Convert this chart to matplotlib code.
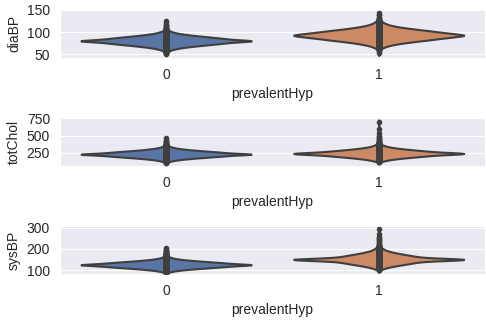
import numpy as np
import pandas as pd
import matplotlib
matplotlib.use("Agg")
import matplotlib.pyplot as plt
import seaborn as sns

# readings binned by value, one list of counts per prevalentHyp group
dia_vals_0 = [50, 52.5, 55, 57.5, 60, 62.5, 65, 67.5, 70, 72.5, 75, 77.5, 80, 82.5,
              85, 87.5, 90, 92.5, 95, 97.5, 100, 102.5, 105, 107.5, 110, 112.5, 115, 120, 125]
dia_cnt_0 = [1, 3, 6, 12, 24, 42, 69, 106, 149, 196, 237, 266, 407, 266,
             237, 196, 149, 106, 69, 42, 26, 14, 8, 5, 3, 2, 2, 1, 1]
dia_vals_1 = [52.5, 57.5, 62.5, 67.5, 72.5, 77.5, 82.5, 87.5, 92.5, 97.5,
              102.5, 107.5, 112.5, 117.5, 122.5, 127.5, 132.5, 137.5, 142.5]
dia_cnt_1 = [1, 2, 7, 20, 46, 89, 142, 189, 250, 189,
             142, 89, 46, 22, 10, 5, 3, 2, 1]

chol_vals_0 = [110, 120, 130, 140, 150, 160, 170, 180, 190, 200, 210, 220, 230,
               240, 250, 260, 270, 280, 290, 300, 310, 320, 330, 340, 350, 360, 370,
               380, 390, 400, 420, 440, 460]
chol_cnt_0 = [2, 8, 15, 25, 39, 59, 84, 113, 145, 175, 200, 217, 347,
              217, 200, 175, 145, 113, 86, 63, 44, 30, 20, 13, 9, 6, 4,
              3, 2, 2, 1, 1, 1]
chol_vals_1 = [120, 130, 140, 150, 160, 170, 180, 190, 200, 210, 220, 230, 240,
               250, 260, 270, 280, 290, 300, 310, 320, 330, 340, 350, 360, 370, 380,
               390, 400, 410, 420, 430, 440, 450, 460, 480, 500, 540, 600, 700]
chol_cnt_1 = [3, 6, 10, 15, 22, 31, 41, 53, 65, 76, 85, 91, 198,
              91, 85, 76, 65, 53, 42, 32, 24, 17, 12, 9, 6, 4, 3,
              3, 2, 2, 1, 1, 1, 1, 1, 1, 1, 1, 1, 1]

sys_vals_0 = [85, 90, 95, 100, 105, 110, 115, 120, 125, 130, 135, 140, 145,
              150, 155, 160, 165, 170, 175, 180, 185, 190, 195, 200, 205]
sys_cnt_0 = [2, 12, 34, 69, 123, 193, 265, 321, 444, 321, 265, 193, 125,
             72, 38, 20, 11, 7, 5, 3, 2, 2, 1, 1, 1]
sys_vals_1 = [100, 105, 110, 115, 120, 125, 130, 135, 140, 145, 150, 155, 160,
              165, 170, 175, 180, 185, 190, 195, 200, 205, 210, 215, 220, 225,
              230, 235, 240, 245, 250, 255, 270, 295]
sys_cnt_1 = [3, 8, 15, 24, 36, 52, 66, 79, 90, 97, 320, 97, 90,
             79, 66, 52, 39, 28, 19, 13, 9, 6, 4, 3, 2, 2,
             1, 1, 1, 1, 1, 1, 1, 1]

panels = [
    ("diaBP", dia_vals_0, dia_cnt_0, dia_vals_1, dia_cnt_1, [50, 100, 150], (41.5, 150)),
    ("totChol", chol_vals_0, chol_cnt_0, chol_vals_1, chol_cnt_1, [250, 500, 750], (60, 752)),
    ("sysBP", sys_vals_0, sys_cnt_0, sys_vals_1, sys_cnt_1, [100, 200, 300], (81, 306)),
]

sns.set_style("darkgrid")
plt.rcParams["font.family"] = ["Liberation Sans", "DejaVu Sans"]

fig, axes = plt.subplots(3, 1, figsize=(4.86, 3.21), dpi=100)
fig.subplots_adjust(left=0.123, right=0.998, top=0.969, bottom=0.146, hspace=1.26)

for ax, (name, v0, c0, v1, c1, ticks, lim) in zip(axes, panels):
    df = pd.DataFrame({
        "prevalentHyp": ["0"] * sum(c0) + ["1"] * sum(c1),
        name: np.concatenate([np.repeat(v0, c0), np.repeat(v1, c1)]),
    })
    sns.violinplot(data=df, x="prevalentHyp", y=name, hue="prevalentHyp",
                   palette=["#4c72b0", "#dd8452"], legend=False, inner="point",
                   linewidth=1.5, linecolor="#3f3f3f", ax=ax)
    ax.set_yticks(ticks)
    ax.set_ylim(*lim)

fig.savefig("out.png", dpi=100)
